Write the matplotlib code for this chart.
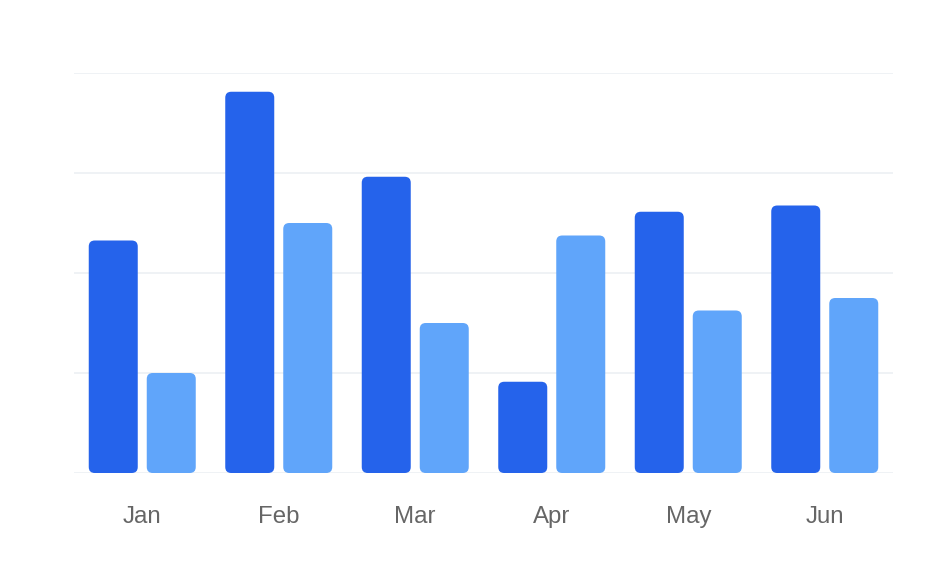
import matplotlib.pyplot as plt
from matplotlib.patches import FancyBboxPatch
import numpy as np

months = ["Jan", "Feb", "Mar", "Apr", "May", "Jun"]
desktop = [186, 305, 237, 73, 209, 214]
mobile = [80, 200, 120, 190, 130, 140]

colors = {"desktop": "#2563eb", "mobile": "#60a5fa"}

plt.rcParams["font.family"] = ["Liberation Sans", "DejaVu Sans"]

fig = plt.figure(figsize=(9.36, 5.76), dpi=100)
ax = fig.add_axes([74 / 936, 103 / 576, (893 - 74) / 936, 400 / 576])

ymax = 320
ax.set_xlim(-0.5, len(months) - 0.5)
ax.set_ylim(0, ymax)

# bar geometry in category units (band = 1)
width = 49 / 136.5
offset = 29 / 136.5
radius_px = 6
px_per_x = 136.5
px_per_y = 400 / ymax
r = radius_px / px_per_x
aspect = (radius_px / px_per_y) / r

x = np.arange(len(months))
for series, vals in [("desktop", desktop), ("mobile", mobile)]:
    shift = -offset if series == "desktop" else offset
    for xi, v in zip(x, vals):
        patch = FancyBboxPatch(
            (xi + shift - width / 2, 0), width, v,
            boxstyle=f"round,pad=0,rounding_size={r}",
            mutation_aspect=aspect,
            facecolor=colors[series], edgecolor="none", zorder=3,
        )
        ax.add_patch(patch)

ax.set_yticks(np.arange(0, ymax + 1, 80))
ax.set_yticklabels([])
ax.tick_params(axis="y", length=0)
ax.grid(True, axis="y", color="#eef1f5", linewidth=1.3, zorder=0)
ax.set_axisbelow(True)

ax.set_xticks(x)
ax.set_xticklabels(months, fontsize=17.3, color="#666666")
ax.tick_params(axis="x", length=0, pad=24)

for s in ax.spines.values():
    s.set_visible(False)

plt.savefig("out.png", dpi=100)
